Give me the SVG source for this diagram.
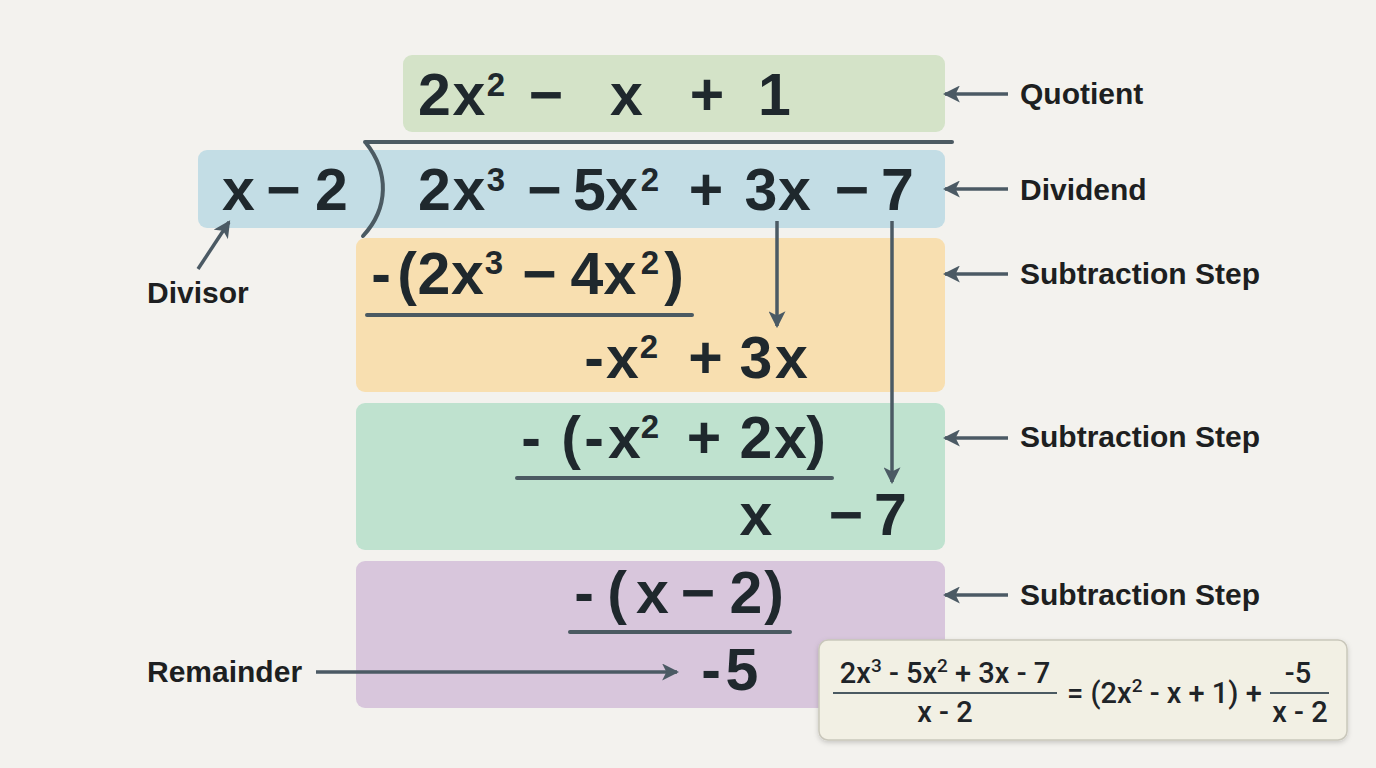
<svg xmlns="http://www.w3.org/2000/svg" width="1376" height="768" viewBox="0 0 1376 768">
<defs>
<marker id="ah" viewBox="0 0 16 16" refX="14" refY="8" markerWidth="17" markerHeight="17" markerUnits="userSpaceOnUse" orient="auto">
<path d="M0,0 L16,8 L0,16 L4,8 z" fill="#4b5a64"/>
</marker>
<filter id="sh" x="-5%" y="-10%" width="110%" height="130%">
<feDropShadow dx="0" dy="2" stdDeviation="2.5" flood-color="#000" flood-opacity="0.18"/>
</filter>
<style>
.m{font-family:"Liberation Sans",Arial,sans-serif;font-weight:700;font-size:59px;fill:#1f282d;text-anchor:middle}
.s{font-size:33px}
.lab{font-family:"Liberation Sans",Arial,sans-serif;font-weight:700;font-size:30px;fill:#1d1f21}
.f{font-family:Roboto,"Liberation Sans",sans-serif;font-weight:500;font-size:29px;fill:#1f2428}
.rule{stroke:#4b5a62;stroke-width:4;stroke-linecap:round;fill:none}
.con{stroke:#4b5a64;stroke-width:3.5;fill:none;marker-end:url(#ah)}
</style>
</defs>
<rect width="1376" height="768" fill="#f3f2ee"/>

<g id="quotient">
<rect x="403" y="55" width="542" height="77" rx="9" fill="#d4e3c8"/>
<text class="m"><tspan x="434.5" y="115">2</tspan><tspan x="469" y="115">x</tspan><tspan class="s" x="496" y="96">2</tspan><tspan x="546" y="115">−</tspan><tspan x="626.5" y="115">x</tspan><tspan x="707" y="115">+</tspan><tspan x="774.5" y="115">1</tspan></text>
</g>

<g id="dividend">
<rect x="198" y="150" width="747" height="78" rx="9" fill="#c3dde5"/>
<path d="M365,142 L952,142" class="rule" stroke-width="5"/>
<path d="M366,143 C389,172 389,208 363,236" class="rule"/>
<text class="m"><tspan x="434.5" y="210">2</tspan><tspan x="469" y="210">x</tspan><tspan class="s" x="496" y="191">3</tspan><tspan x="544.5" y="210">−</tspan><tspan x="589.5" y="210">5</tspan><tspan x="621.5" y="210">x</tspan><tspan class="s" x="650" y="191">2</tspan><tspan x="706" y="210">+</tspan><tspan x="761" y="210">3</tspan><tspan x="794.5" y="210">x</tspan><tspan x="852" y="210">−</tspan><tspan x="897.5" y="210">7</tspan></text>
</g>

<g id="divisor">
<text class="m"><tspan x="238.5" y="210">x</tspan><tspan x="283.5" y="210">−</tspan><tspan x="331.5" y="210">2</tspan></text>
</g>

<g id="step1">
<rect x="356" y="238" width="589" height="154" rx="9" fill="#f8dfb0"/>
<text class="m"><tspan x="381" y="294">-</tspan><tspan x="407" y="294">(</tspan><tspan x="434" y="294">2</tspan><tspan x="467.5" y="294">x</tspan><tspan class="s" x="494" y="274">3</tspan><tspan x="539.5" y="294">−</tspan><tspan x="587" y="294">4</tspan><tspan x="620" y="294">x</tspan><tspan class="s" x="650" y="274">2</tspan><tspan x="674" y="294">)</tspan></text>
<path d="M367,315 L692,315" class="rule"/>
<text class="m"><tspan x="594" y="378">-</tspan><tspan x="622.5" y="378">x</tspan><tspan class="s" x="649" y="358">2</tspan><tspan x="705.5" y="378">+</tspan><tspan x="756" y="378">3</tspan><tspan x="791.5" y="378">x</tspan></text>
</g>

<g id="step2">
<rect x="356" y="403" width="589" height="147" rx="9" fill="#bfe2cf"/>
<text class="m"><tspan x="531" y="458">-</tspan><tspan x="571" y="458">(</tspan><tspan x="594" y="458">-</tspan><tspan x="624.5" y="458">x</tspan><tspan class="s" x="650" y="438">2</tspan><tspan x="704" y="458">+</tspan><tspan x="756" y="458">2</tspan><tspan x="790.5" y="458">x</tspan><tspan x="816" y="458">)</tspan></text>
<path d="M517,478 L832,478" class="rule"/>
<text class="m"><tspan x="756" y="535">x</tspan><tspan x="846" y="535">−</tspan><tspan x="890.5" y="535">7</tspan></text>
</g>

<g id="step3">
<rect x="356" y="561" width="589" height="147" rx="9" fill="#d8c6dc"/>
<text class="m"><tspan x="584" y="613">-</tspan><tspan x="617" y="613">(</tspan><tspan x="652.5" y="613">x</tspan><tspan x="698" y="613">−</tspan><tspan x="746" y="613">2</tspan><tspan x="774" y="613">)</tspan></text>
<path d="M570,632 L790,632" class="rule"/>
<text class="m"><tspan x="711" y="690">-</tspan><tspan x="742" y="690">5</tspan></text>
</g>

<g id="formula">
<rect x="819" y="640" width="528" height="100" rx="9" fill="#f2f0e4" stroke="#c9c7bb" stroke-width="1.5" filter="url(#sh)"/>
<text class="f" x="945" y="683" text-anchor="middle">2x<tspan font-size="19" dy="-11">3</tspan><tspan dy="11"> - 5x</tspan><tspan font-size="19" dy="-11">2</tspan><tspan dy="11"> + 3x - 7</tspan></text>
<path d="M833,693 L1057,693" stroke="#4b5a62" stroke-width="2"/>
<text class="f" x="945" y="722" text-anchor="middle">x - 2</text>
<text class="f" x="1067" y="703">= (2x<tspan font-size="19" dy="-11">2</tspan><tspan dy="11"> - x + 1) +</tspan></text>
<text class="f" x="1298" y="683" text-anchor="middle">-5</text>
<path d="M1270,693 L1329,693" stroke="#4b5a62" stroke-width="2"/>
<text class="f" x="1300" y="722" text-anchor="middle">x - 2</text>
</g>

<g id="labels">
<text class="lab" x="1020" y="104">Quotient</text>
<text class="lab" x="1020" y="200">Dividend</text>
<text class="lab" x="1020" y="284">Subtraction Step</text>
<text class="lab" x="1020" y="447">Subtraction Step</text>
<text class="lab" x="1020" y="605">Subtraction Step</text>
<text class="lab" x="147" y="303">Divisor</text>
<text class="lab" x="147" y="682">Remainder</text>
</g>

<g id="connectors">
<line class="con" x1="1008" y1="94" x2="945" y2="94"/>
<line class="con" x1="1008" y1="189" x2="945" y2="189"/>
<line class="con" x1="1008" y1="274" x2="945" y2="274"/>
<line class="con" x1="1008" y1="438" x2="945" y2="438"/>
<line class="con" x1="1008" y1="595" x2="945" y2="595"/>
<line class="con" x1="198" y1="269" x2="229" y2="222"/>
<line class="con" x1="316" y1="672" x2="677" y2="672"/>
<line class="con" x1="777" y1="221" x2="777" y2="326"/>
<line class="con" x1="892" y1="221" x2="892" y2="482"/>
</g>
</svg>
